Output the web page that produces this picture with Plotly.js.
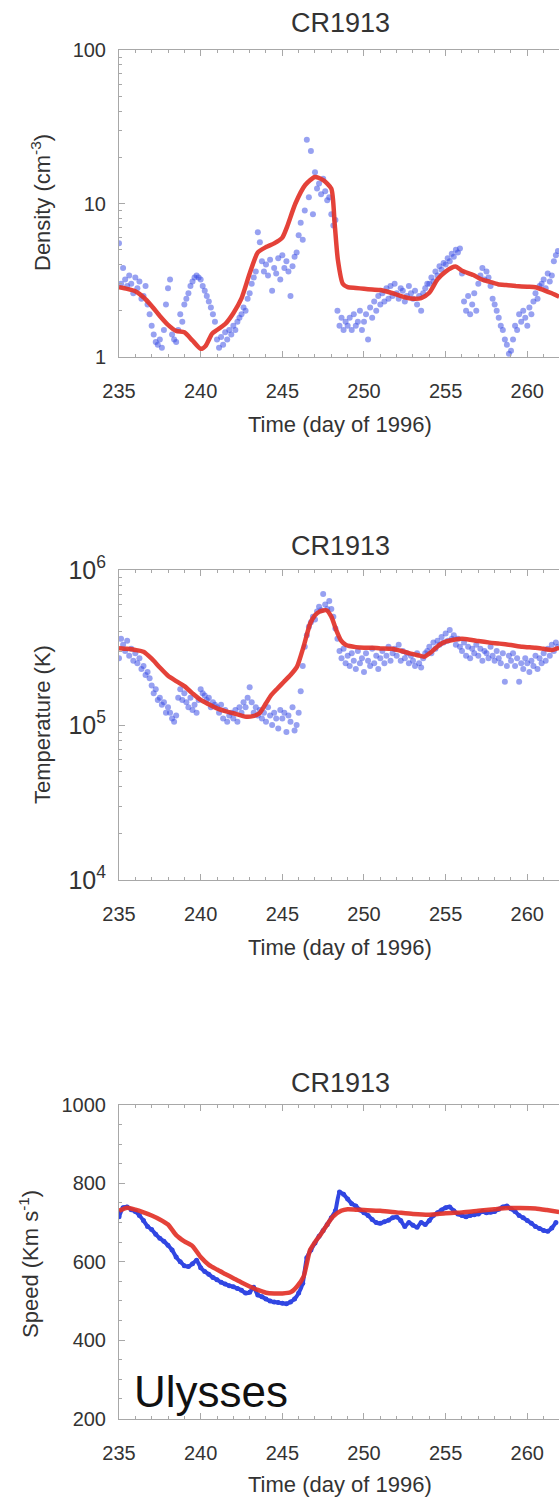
<!DOCTYPE html>
<html><head><meta charset="utf-8">
<script src="https://cdn.plot.ly/plotly-3.0.1.min.js"></script>
<style>html,body{margin:0;padding:0;background:#fff}#chart{width:559px;height:1498px}</style>
</head><body><div id="chart"></div>
<script>
// ---------- text ----------
const panelTitle = 'CR1913';
const xAxisTitle = 'Time (day of 1996)';
const densityLabel = 'Density (cm<sup>-3</sup>)';
const temperatureLabel = 'Temperature (K)';
const speedLabel = 'Speed (Km s<sup>-1</sup>)';
const spacecraft = 'Ulysses';
const xTickVals = [235, 240, 245, 250, 255, 260];
const speedTickVals = [200, 400, 600, 800, 1000];

// ---------- observed data (3-hourly samples starting day 235.0) ----------
const obsStartDay = 235;
const obsPerDay = 8;
const densityObs = [
  5.5,3.0,3.8,3.2,2.9,3.4,3.0,2.6,
  3.3,2.8,3.1,2.4,2.5,2.9,2.2,1.9,
  1.6,1.4,1.25,1.2,1.3,1.15,1.5,2.2,
  2.8,3.2,1.4,1.3,1.25,1.5,1.9,1.7,
  2.2,2.4,2.6,2.9,3.1,3.3,3.4,3.3,
  3.2,2.9,2.7,2.5,2.3,2.1,1.9,1.7,
  1.3,1.15,1.35,1.2,1.45,1.3,1.5,1.4,
  1.6,1.5,1.7,1.8,1.9,2.1,2.0,2.4,
  2.6,3.0,3.3,3.6,6.5,5.6,4.2,3.6,
  4.0,3.4,4.3,2.7,3.8,3.5,4.4,3.2,
  4.6,3.8,4.2,3.6,2.5,3.9,4.5,4.8,
  6.2,7.5,5.8,9.0,26,11,22,8.5,
  16,12.5,13.5,11.5,14.5,12,10.5,11,
  8.5,7.2,7.8,2.0,1.6,1.8,1.5,1.7,
  1.6,1.8,1.5,1.9,1.6,1.7,2.0,1.5,
  1.7,1.9,1.3,2.1,1.8,2.3,2.0,2.5,
  2.2,2.6,2.3,2.8,2.4,2.9,2.5,3.0,
  2.6,2.4,2.8,2.7,2.3,2.5,2.9,2.6,
  2.4,2.7,2.2,2.5,2.0,2.6,2.8,3.0,
  3.0,3.3,3.1,3.6,3.4,3.9,3.7,4.1,
  4.0,4.4,4.2,4.7,4.5,5.0,4.8,5.1,
  3.5,2.3,2.0,2.5,1.9,2.2,2.6,2.0,
  3.0,3.4,3.8,3.2,3.6,3.3,2.9,2.4,
  2.2,2.0,1.8,1.6,1.5,1.3,1.2,1.05,
  1.1,1.3,1.6,1.5,1.9,1.7,2.0,1.8,
  1.6,2.1,1.9,2.3,2.6,2.4,2.9,3.0,
  3.2,2.8,3.5,3.1,3.4,4.2,4.6,4.9
];
const temperatureObs = [
  2.7e5,3.6e5,3.3e5,3.0e5,3.5e5,2.8e5,3.1e5,2.6e5,
  2.9e5,2.5e5,2.7e5,2.3e5,2.4e5,2.1e5,2.2e5,2.0e5,
  1.8e5,1.6e5,1.7e5,1.45e5,1.5e5,1.35e5,1.4e5,1.2e5,
  1.3e5,1.2e5,1.1e5,1.05e5,1.15e5,1.5e5,1.7e5,1.45e5,
  1.6e5,1.4e5,1.3e5,1.5e5,1.25e5,1.35e5,1.2e5,1.45e5,
  1.7e5,1.6e5,1.55e5,1.45e5,1.5e5,1.3e5,1.4e5,1.35e5,
  1.3e5,1.2e5,1.35e5,1.1e5,1.25e5,1.05e5,1.15e5,1.2e5,
  1.1e5,1.25e5,1.05e5,1.3e5,1.2e5,1.4e5,1.3e5,1.5e5,
  1.75e5,1.4e5,1.2e5,1.3e5,1.15e5,1.25e5,1.1e5,1.2e5,
  1.05e5,1.3e5,1.15e5,1.0e5,1.2e5,1.1e5,0.95e5,1.25e5,
  1.1e5,1.2e5,0.9e5,1.15e5,1.05e5,1.3e5,0.92e5,1.0e5,
  1.2e5,1.65e5,2.4e5,3.2e5,3.8e5,4.3e5,4.6e5,5.0e5,
  4.8e5,5.4e5,5.8e5,5.5e5,7.0e5,6.0e5,5.6e5,6.3e5,
  5.6e5,5.0e5,4.2e5,3.6e5,3.0e5,2.7e5,3.1e5,2.5e5,
  2.8e5,2.4e5,2.9e5,2.6e5,2.3e5,3.0e5,2.5e5,2.7e5,
  2.2e5,2.9e5,2.6e5,2.4e5,3.1e5,2.5e5,2.8e5,2.3e5,
  2.7e5,3.0e5,2.5e5,2.8e5,3.2e5,2.6e5,2.9e5,3.1e5,
  2.8e5,3.3e5,2.6e5,3.0e5,2.7e5,2.9e5,2.5e5,2.8e5,
  2.6e5,2.4e5,2.9e5,2.5e5,2.35e5,2.7e5,2.9e5,3.0e5,
  3.2e5,2.9e5,3.4e5,3.1e5,3.5e5,3.3e5,3.7e5,3.4e5,
  3.9e5,3.5e5,4.1e5,3.6e5,3.8e5,3.3e5,3.6e5,3.2e5,
  3.0e5,3.4e5,2.8e5,3.2e5,2.7e5,3.1e5,2.9e5,3.3e5,
  2.8e5,3.1e5,2.6e5,3.0e5,2.9e5,2.7e5,3.2e5,2.8e5,
  2.6e5,3.0e5,2.7e5,2.5e5,2.9e5,1.9e5,2.4e5,2.8e5,
  2.6e5,2.9e5,2.4e5,2.7e5,1.9e5,2.5e5,2.3e5,2.7e5,
  2.5e5,2.2e5,2.6e5,2.4e5,2.8e5,2.3e5,2.7e5,2.5e5,
  2.9e5,2.6e5,3.1e5,2.8e5,3.3e5,3.0e5,3.4e5,3.2e5
];
// speed: 6-hourly samples starting day 235.0
const speedPerDay = 4;
const speedObs = [
  715,738,740,733, 728,718,705,690, 682,670,660,652, 642,630,612,600,
  590,588,595,604, 585,575,568,560, 554,548,543,539, 536,532,527,520,
  522,535,515,511, 505,500,497,496, 494,493,497,505, 520,545,610,630,
  648,665,680,695, 712,730,778,772, 760,748,742,732, 725,718,708,700,
  698,702,706,712, 714,705,690,700, 693,688,700,695, 705,718,725,732,
  738,740,730,722, 718,715,718,720, 722,728,725,726, 728,734,740,742,
  735,728,718,712, 705,698,690,685, 680,678,686,700
];

// ---------- model (red) curves ----------
const densityModelDay = [235.0,235.5,236.0,236.5,237.0,237.5,238.0,238.5,239.0,239.5,240.0,240.3,240.7,241.0,241.5,242.0,242.5,243.0,243.5,244.0,244.5,245.0,245.3,245.8,246.4,247.0,247.5,248.0,248.2,248.4,248.7,249.0,249.5,250.0,250.5,251.0,251.5,252.0,252.5,253.0,253.5,254.0,254.5,255.0,255.6,256.0,256.7,257.2,257.7,258.2,258.7,259.3,260.0,260.5,261.0,261.5,261.95];
const densityModel = [2.85,2.78,2.68,2.45,2.15,1.85,1.62,1.48,1.45,1.28,1.13,1.18,1.42,1.5,1.64,1.93,2.41,3.5,4.8,5.2,5.5,6.0,7.1,10.0,13.2,14.9,14.2,12.5,7.5,4.3,3.0,2.85,2.82,2.78,2.75,2.73,2.65,2.55,2.45,2.4,2.42,2.62,3.2,3.6,3.88,3.65,3.42,3.2,3.09,2.98,2.94,2.9,2.87,2.85,2.73,2.6,2.47];
const temperatureModelDay = [235.0,235.5,236.0,236.5,237.0,237.5,238.0,238.5,239.0,239.5,240.0,240.5,241.0,241.5,242.0,242.5,242.8,243.2,243.6,244.0,244.3,244.7,245.1,245.5,245.9,246.3,246.7,247.0,247.3,247.7,248.0,248.3,248.6,248.9,249.5,250.0,250.5,251.0,251.7,252.3,252.8,253.3,253.7,254.1,254.6,255.0,255.5,256.0,256.5,257.0,257.7,258.3,259.0,259.7,260.5,261.0,261.5,261.95];
const temperatureModel = [3.13e5,3.1e5,3.05e5,2.97e5,2.68e5,2.35e5,2.08e5,1.92e5,1.78e5,1.6e5,1.45e5,1.36e5,1.28e5,1.23e5,1.19e5,1.15e5,1.13e5,1.14e5,1.19e5,1.38e5,1.55e5,1.72e5,1.9e5,2.1e5,2.38e5,3.2e5,4.5e5,5.1e5,5.4e5,5.5e5,5.0e5,4.1e5,3.5e5,3.28e5,3.18e5,3.15e5,3.15e5,3.12e5,3.1e5,3.0e5,2.9e5,2.82e5,2.76e5,2.95e5,3.28e5,3.45e5,3.55e5,3.6e5,3.55e5,3.48e5,3.4e5,3.35e5,3.28e5,3.2e5,3.15e5,3.1e5,3.05e5,3.15e5];
const speedModelDay = [235.0,235.5,236.0,236.5,237.0,237.5,238.0,238.5,239.0,239.5,240.0,240.5,241.0,241.5,242.0,242.5,243.0,243.5,244.0,244.5,245.0,245.5,245.9,246.3,246.7,247.0,247.3,247.7,248.1,248.6,249.0,249.5,250.0,251.0,252.0,253.0,254.0,255.0,256.0,257.0,258.0,258.8,259.5,260.5,261.2,261.95];
const speedModel = [730,738,733,726,718,708,695,668,652,640,612,592,580,569,558,547,537,528,521,519,519,522,537,562,630,650,667,692,715,730,734,733,732,730,726,722,720,724,726,730,734,737,737,736,732,727];

// ---------- build ----------
function obsDays(n, perDay){ const d=[]; for(let i=0;i<n;i++) d.push(obsStartDay + i/perDay); return d; }
const W = 559, H = 1498;
const px = v => v / W;
const py = v => 1 - v / H;

const red = 'rgba(226,50,40,0.92)';
const blueDot = 'rgba(55,75,228,0.52)';
const blueLine = '#3146e2';
const axisGray = '#a8a8a8';
const textCol = '#333';
const FONT = 'Liberation Sans, Arial, Helvetica, sans-serif';
const TICK = 20, TITLE = 27, AXT = 22;

const xRange = [235, 261.94];
const xDomain = [px(119), 1];
const panels = [
  {top: 50, bottom: 357},
  {top: 570, bottom: 880},
  {top: 1105, bottom: 1418.5}
];

function xaxis(i){
  return {
    domain: xDomain, range: xRange, anchor: 'y'+(i===0?'':i+1),
    showline: true, linecolor: axisGray, linewidth: 1, mirror: 'ticks',
    ticks: 'inside', ticklen: 6, tickcolor: axisGray, tickwidth: 1,
    tickmode: 'array', tickvals: xTickVals,
    minor: {ticks: 'inside', ticklen: 3, dtick: 1, tick0: 235, tickcolor: axisGray, showgrid: false},
    showgrid: false, zeroline: false,
    tickfont: {family: FONT, size: TICK, color: textCol},
    ticklabelstandoff: 16
  };
}
function ydom(p){ return [py(p.bottom), py(p.top)]; }
const baseY = {
  showline: true, linecolor: axisGray, linewidth: 1, mirror: false,
  ticks: 'inside', ticklen: 6, tickcolor: axisGray, tickwidth: 1,
  showgrid: false, zeroline: false,
  tickfont: {family: FONT, size: TICK, color: textCol},
  ticklabelstandoff: 8
};

const traces = [
  {x: obsDays(densityObs.length, obsPerDay), y: densityObs, mode: 'markers', type: 'scatter',
   marker: {color: blueDot, size: 6}, xaxis: 'x', yaxis: 'y'},
  {x: densityModelDay, y: densityModel, mode: 'lines', type: 'scatter',
   line: {color: red, width: 4.5, shape: 'spline', smoothing: 0.6}, xaxis: 'x', yaxis: 'y'},
  {x: obsDays(temperatureObs.length, obsPerDay), y: temperatureObs, mode: 'markers', type: 'scatter',
   marker: {color: blueDot, size: 6}, xaxis: 'x2', yaxis: 'y2'},
  {x: temperatureModelDay, y: temperatureModel, mode: 'lines', type: 'scatter',
   line: {color: red, width: 4.5, shape: 'spline', smoothing: 0.6}, xaxis: 'x2', yaxis: 'y2'},
  {x: obsDays(speedObs.length, speedPerDay), y: speedObs, mode: 'lines+markers', type: 'scatter',
   line: {color: blueLine, width: 4, shape: 'spline', smoothing: 0.5},
   marker: {color: blueLine, size: 5}, xaxis: 'x3', yaxis: 'y3'},
  {x: speedModelDay, y: speedModel, mode: 'lines', type: 'scatter',
   line: {color: red, width: 4.5, shape: 'spline', smoothing: 0.6}, xaxis: 'x3', yaxis: 'y3'}
];

function ann(text, x, y, size, opts){
  return Object.assign({text, x: px(x), y: py(y), xref: 'paper', yref: 'paper',
    showarrow: false, xanchor: 'center', yanchor: 'middle',
    font: {family: FONT, size, color: textCol}}, opts || {});
}
const annotations = [
  ann(panelTitle, 340, 23, TITLE),
  ann(panelTitle, 340, 546, TITLE),
  ann(panelTitle, 340, 1083, TITLE),
  ann(xAxisTitle, 340, 424, AXT),
  ann(xAxisTitle, 340, 947, AXT),
  ann(xAxisTitle, 340, 1484, AXT),
  ann(densityLabel, 41, 203, AXT, {textangle: -90}),
  ann(temperatureLabel, 42, 725, AXT, {textangle: -90}),
  ann(speedLabel, 29, 1264, AXT, {textangle: -90}),
  ann(spacecraft, 132, 1391, 44, {xanchor: 'left', font: {family: FONT, size: 44, color: '#111'}})
];

const layout = {
  width: W, height: H,
  margin: {l: 0, r: 0, t: 0, b: 0},
  paper_bgcolor: '#fff', plot_bgcolor: '#fff',
  showlegend: false,
  xaxis: xaxis(0), xaxis2: xaxis(1), xaxis3: xaxis(2),
  yaxis: Object.assign({}, baseY, {domain: ydom(panels[0]), anchor: 'x', type: 'log', range: [0, 2],
    tickmode: 'array', tickvals: [1, 10, 100], ticktext: ['1', '10', '100'],
    minor: {ticks: 'inside', ticklen: 3, tickcolor: axisGray, dtick: 'D1', showgrid: false}}),
  yaxis2: Object.assign({}, baseY, {domain: ydom(panels[1]), anchor: 'x2', type: 'log', range: [4, 6],
    dtick: 1, exponentformat: 'power', showexponent: 'all',
    minor: {ticks: 'inside', ticklen: 3, tickcolor: axisGray, dtick: 'D1', showgrid: false}}),
  yaxis3: Object.assign({}, baseY, {domain: ydom(panels[2]), anchor: 'x3', range: [200, 1000],
    tickmode: 'array', tickvals: speedTickVals,
    minor: {ticks: 'inside', ticklen: 3, tickcolor: axisGray, dtick: 50, tick0: 200, showgrid: false}}),
  annotations: annotations
};

Plotly.newPlot('chart', traces, layout, {staticPlot: true, displayModeBar: false});
</script>
</body></html>
